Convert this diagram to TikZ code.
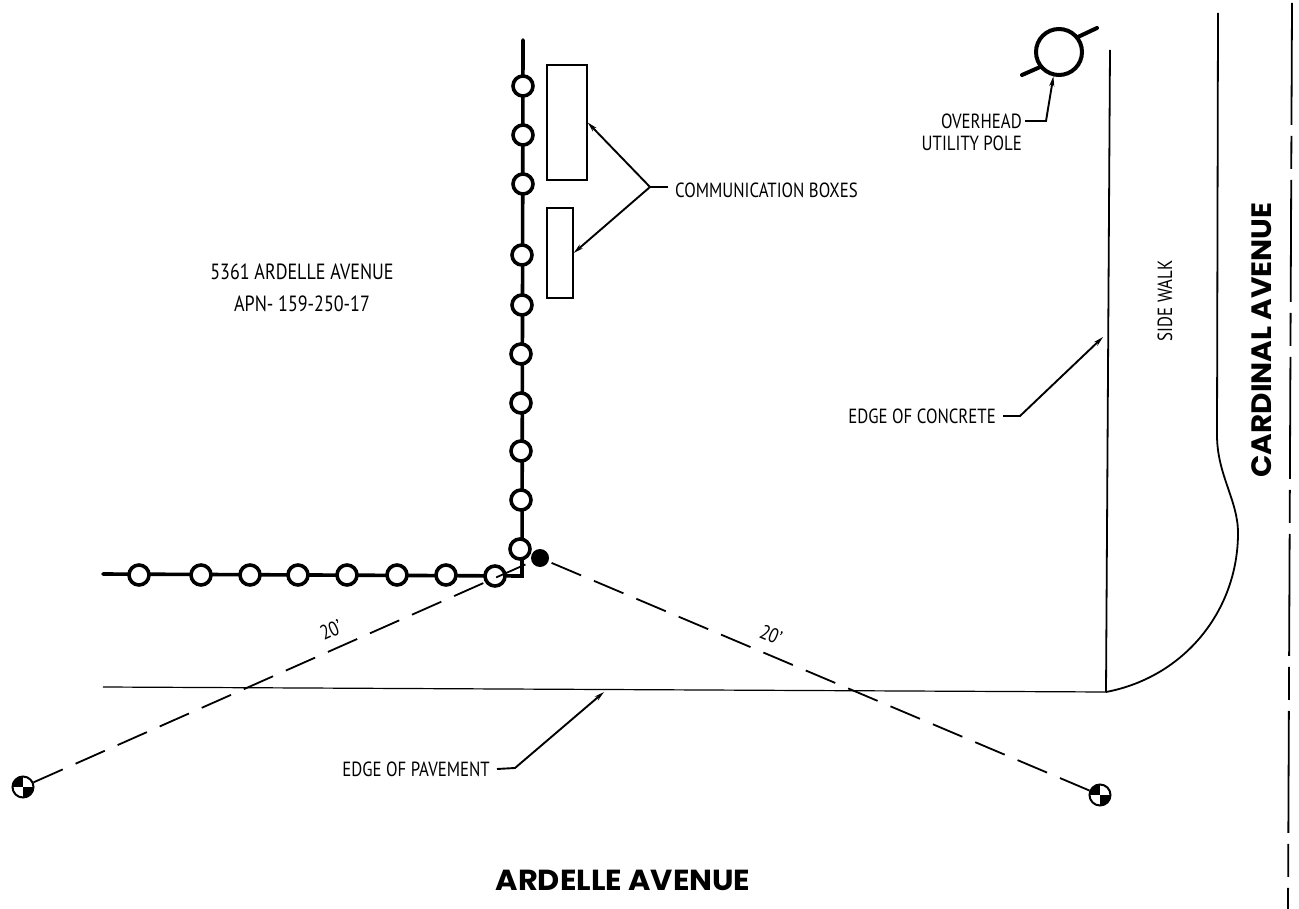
\documentclass[tikz,border=0pt]{standalone}
\usepackage{fontspec}
\usetikzlibrary{arrows.meta}
\setmainfont{PT Sans}[FakeStretch=0.82]
\newfontfamily\streetfont{Poppins}[FakeStretch=1.05]
\tikzset{
  fencepost/.style={circle,draw,fill=white,line width=3.6pt,minimum size=20pt,inner sep=0pt},
  monument/.style={circle,draw,line width=2pt,minimum size=21pt,inner sep=0pt,
    path picture={\fill (path picture bounding box.north west) rectangle (path picture bounding box.center);
                  \fill (path picture bounding box.south east) rectangle (path picture bounding box.center);}},
  commbox/.style={rectangle,draw,line width=1.4pt,inner sep=0pt},
  note/.style={font=\fontsize{20.5}{24}\selectfont,inner sep=7pt},
  street/.style={font=\streetfont\bfseries\fontsize{29}{32}\selectfont,inner sep=0pt},
  leader/.style={line width=1.9pt},
  tip/.style={-{Stealth[length=10pt,width=5pt]}},
  measure/.style={line width=1.8pt,dash pattern=on 32pt off 14pt}
}
\begin{document}
\begin{tikzpicture}[x=1pt,y=-1pt]
\useasboundingbox (0,0) rectangle (1299,909);
\coordinate (fencetop) at (523,40);
\coordinate (fencecorner) at (522,576);
\coordinate (fenceend) at (103,574);
\coordinate (pavementend) at (103,687);
\coordinate (pavementcorner) at (1106,692);
\coordinate (concretetop) at (1110,50);
\coordinate (curbtop) at (1218,13);
\coordinate (centertop) at (1292,3);
\coordinate (centerend) at (1288,909);
\coordinate (pavementjoint) at (515,768);
\coordinate (pavementtip) at (604,692);
\coordinate (concretejoint) at (1020,416);
\coordinate (concretetip) at (1103,337);
\coordinate (polejoint) at (1046,121);
\coordinate (commjoint) at (650,187);
\coordinate (wireupper) at (1097,28);
\coordinate (wirelower) at (1022,75);

\draw[line width=3.6pt,line cap=round] (fenceend) -- (fencecorner) -- (fencetop);
\draw[line width=1.2pt] (pavementend) -- (pavementcorner);
\draw[line width=1.8pt] (pavementcorner) -- (concretetop);
\draw[line width=1.8pt] (pavementcorner) .. controls (1185,677) and (1238,610) .. (1238,533)
      .. controls (1238,500) and (1217,475) .. (1217,435) -- (curbtop);
\draw[line width=1.8pt,dash pattern=on 122pt off 11pt on 33pt off 11pt] (centertop) -- (centerend);

\node[fencepost] (posta) at (523,86) {};
\node[fencepost] (postb) at (523,135) {};
\node[fencepost] (postc) at (523,184) {};
\node[fencepost] (postd) at (522,255) {};
\node[fencepost] (poste) at (522,305) {};
\node[fencepost] (postf) at (521,354) {};
\node[fencepost] (postg) at (521,403) {};
\node[fencepost] (posth) at (521,451) {};
\node[fencepost] (posti) at (521,500) {};
\node[fencepost] (postj) at (520,549) {};
\node[fencepost] (postk) at (495,576) {};
\node[fencepost] (postl) at (446,575) {};
\node[fencepost] (postm) at (397,575) {};
\node[fencepost] (postn) at (347,575) {};
\node[fencepost] (posto) at (298,575) {};
\node[fencepost] (postp) at (250,575) {};
\node[fencepost] (postq) at (201,575) {};
\node[fencepost] (postr) at (139,575) {};

\node[circle,fill,minimum size=18pt,inner sep=0pt] (hub) at (540,558) {};
\node[monument] (monumentleft) at (23,787) {};
\node[monument] (monumentright) at (1100,795) {};
\draw[measure] (monumentleft) -- (hub);
\draw[measure] (monumentright) -- (hub);

\node[commbox,minimum width=40pt,minimum height=115pt] (boxupper) at (567,122.5) {};
\node[commbox,minimum width=26pt,minimum height=90pt] (boxlower) at (560,253) {};
\node[circle,draw,line width=4pt,minimum size=46pt,inner sep=0pt] (pole) at (1059,52) {};
\draw[line width=4pt,line cap=round] (pole.38) -- (wireupper);
\draw[line width=4pt,line cap=round] (pole.218) -- (wirelower);

\node[note,anchor=west] (commlabel) at (668,190) {COMMUNICATION BOXES};
\draw[leader] (commlabel.west |- commjoint) -- (commjoint);
\draw[leader,tip] (commjoint) -- (boxupper.east);
\draw[leader,tip] (commjoint) -- (boxlower.east);

\node[note,anchor=east,inner xsep=3pt] (overheadlabel) at (1025,121) {OVERHEAD};
\node[note,anchor=east,inner xsep=3pt] (polelabel) at (1025,143) {UTILITY POLE};
\draw[leader,tip] (overheadlabel.east) -- (polejoint) -- (pole.-103);

\node[note,anchor=east] (concretelabel) at (1003,416) {EDGE OF CONCRETE};
\draw[leader,tip] (concretelabel.east) -- (concretejoint) -- (concretetip);

\node[note,anchor=east] (pavementlabel) at (497,769) {EDGE OF PAVEMENT};
\draw[leader,tip] (pavementlabel.east) -- (pavementjoint) -- (pavementtip);

\node[note,align=center,font=\fontsize{22}{26}\selectfont] (parcellabel) at (302,288) {5361 ARDELLE AVENUE\\[6pt]APN- 159-250-17};
\node[note,rotate=90] (sidewalklabel) at (1165,301) {SIDE WALK};
\node[note,rotate=24,inner sep=0pt] (lengthleft) at (331,630) {20'};
\node[note,rotate=-23,inner sep=0pt] (lengthright) at (771,635) {20'};
\node[street] (ardellelabel) at (623,880) {ARDELLE AVENUE};
\node[street,rotate=90,font=\streetfont\bfseries\fontsize{28}{32}\selectfont] (cardinallabel) at (1262,340) {CARDINAL AVENUE};
\end{tikzpicture}
\end{document}
